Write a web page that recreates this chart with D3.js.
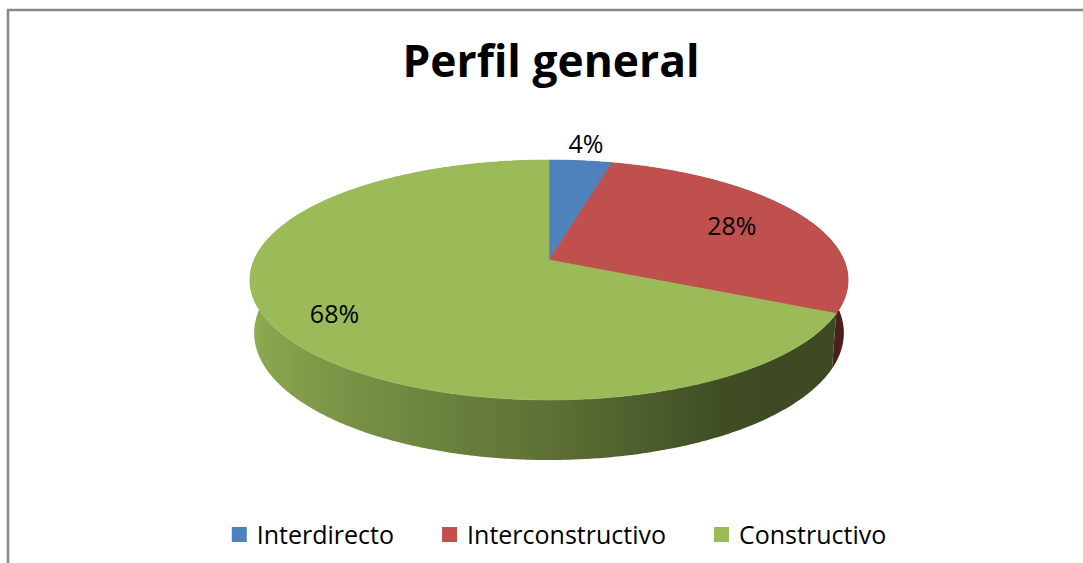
<!DOCTYPE html>
<html>
<head>
<meta charset="utf-8">
<script src="https://cdn.jsdelivr.net/npm/d3@7"></script>
<style>
  body { margin: 0; background: #fff; }
  text { font-family: "Open Sans", "Noto Sans", sans-serif; }
</style>
</head>
<body>
<svg id="chart" width="1083" height="563"></svg>
<script>
// data
var title = "Perfil general";
var categories = ["Interdirecto", "Interconstructivo", "Constructivo"];
var values = [4, 28, 68];
var colors = ["#4F81BD", "#C0504D", "#9BBB59"];

var svg = d3.select("#chart");
var defs = svg.append("defs");

// chart border (runs off the right and bottom of the window)
svg.append("rect")
  .attr("x", 8).attr("y", 10)
  .attr("width", 1200).attr("height", 700)
  .attr("fill", "none")
  .attr("stroke", "#878787")
  .attr("stroke-width", 2.5);

// title
svg.append("text")
  .attr("x", 551).attr("y", 77)
  .attr("text-anchor", "middle")
  .attr("font-size", 45)
  .attr("font-weight", 700)
  .attr("fill", "#000")
  .attr("textLength", 297)
  .attr("lengthAdjust", "spacingAndGlyphs")
  .text(title);

// 3d projection of the pie disc (unit radius)
var cx = 549, cy = 260;
var sa = 0.3955, ca = Math.sqrt(1 - sa * sa);
var D = 5.51, F = 1625, H = 0.195;

function project(X, Y, Z) {
  var yc = Y * ca + Z * sa;
  var zc = D + Z * ca - Y * sa;
  return [cx + F * X / zc, cy - F * yc / zc, zc];
}
function rim(phi, y, r) {
  r = r === undefined ? 1 : r;
  return project(r * Math.sin(phi), y, r * Math.cos(phi));
}

var pie = d3.pie().sort(null).value(function(d) { return d; });
var arcs = pie(values);

// side shading: darker towards the right
var shade = d3.scaleLinear()
  .domain([-1, -0.6, 0, 0.55, 1])
  .range([0.92, 0.78, 0.6, 0.4, 0.39])
  .clamp(true);

function shadeColor(c, k) {
  var col = d3.rgb(c);
  return d3.rgb(col.r * k, col.g * k, col.b * k).toString();
}

var line = d3.line();
var step = Math.PI / 360;
var xl = rim(3 * Math.PI / 2, -H)[0], xr = rim(Math.PI / 2, -H)[0];

// one gradient per slice for its side wall
arcs.forEach(function(a, i) {
  var g = defs.append("linearGradient")
    .attr("id", "side" + i)
    .attr("gradientUnits", "userSpaceOnUse")
    .attr("x1", xl).attr("x2", xr).attr("y1", 0).attr("y2", 0);
  d3.range(0, 41).forEach(function(k) {
    var phi = 3 * Math.PI / 2 - Math.PI * k / 40;
    var x = rim(phi, -H)[0];
    g.append("stop")
      .attr("offset", (x - xl) / (xr - xl))
      .attr("stop-color", shadeColor(colors[i], shade(Math.sin(phi))));
  });
});

function arcPoints(a0, a1, y) {
  var n = Math.max(2, Math.ceil((a1 - a0) / step));
  return d3.range(n + 1).map(function(k) { return rim(a0 + (a1 - a0) * k / n, y); });
}

// side walls, painted far to near
var sides = arcs.map(function(a, i) {
  var pts = arcPoints(a.startAngle, a.endAngle, 0)
    .concat(arcPoints(a.startAngle, a.endAngle, -H).reverse());
  return { i: i, pts: pts, depth: rim((a.startAngle + a.endAngle) / 2, 0)[2] };
});
sides.sort(function(a, b) { return b.depth - a.depth; });

svg.append("g").selectAll("path")
  .data(sides)
  .join("path")
  .attr("d", function(d) { return line(d.pts.map(function(p) { return [p[0], p[1]]; })) + "Z"; })
  .attr("fill", function(d) { return "url(#side" + d.i + ")"; });

// top faces
svg.append("g").selectAll("path")
  .data(arcs)
  .join("path")
  .attr("d", function(a) {
    var pts = [project(0, 0, 0)].concat(arcPoints(a.startAngle, a.endAngle, 0));
    return line(pts.map(function(p) { return [p[0], p[1]]; })) + "Z";
  })
  .attr("fill", function(a, i) { return colors[i]; })
  .attr("stroke", function(a, i) { return colors[i]; })
  .attr("stroke-width", 0.6);

// data labels
var labelRadius = [1.2, 0.72, 0.8];
svg.append("g").selectAll("text")
  .data(arcs)
  .join("text")
  .attr("transform", function(a, i) {
    var p = rim((a.startAngle + a.endAngle) / 2, 0, labelRadius[i]);
    return "translate(" + p[0] + "," + p[1] + ")";
  })
  .attr("text-anchor", "middle")
  .attr("dy", "0.35em")
  .attr("font-size", 25)
  .attr("fill", "#000")
  .text(function(a) { return d3.format(".0%")(a.data / d3.sum(values)); });

// legend
var legend = svg.append("g");
var items = legend.selectAll("g")
  .data(categories)
  .join("g");
items.append("rect")
  .attr("y", 527)
  .attr("width", 15).attr("height", 15)
  .attr("fill", function(d, i) { return colors[i]; });
items.append("text")
  .attr("x", 25).attr("y", 544)
  .attr("font-size", 25)
  .attr("fill", "#000")
  .text(function(d) { return d; });

var xpos = 0, gap = 48;
items.each(function() {
  var w = d3.select(this).select("text").node().getComputedTextLength();
  d3.select(this).attr("transform", "translate(" + xpos + ",0)");
  xpos += 25 + w + gap;
});
var total = xpos - gap;
legend.attr("transform", "translate(" + (559 - total / 2) + ",0)");
</script>
</body>
</html>
